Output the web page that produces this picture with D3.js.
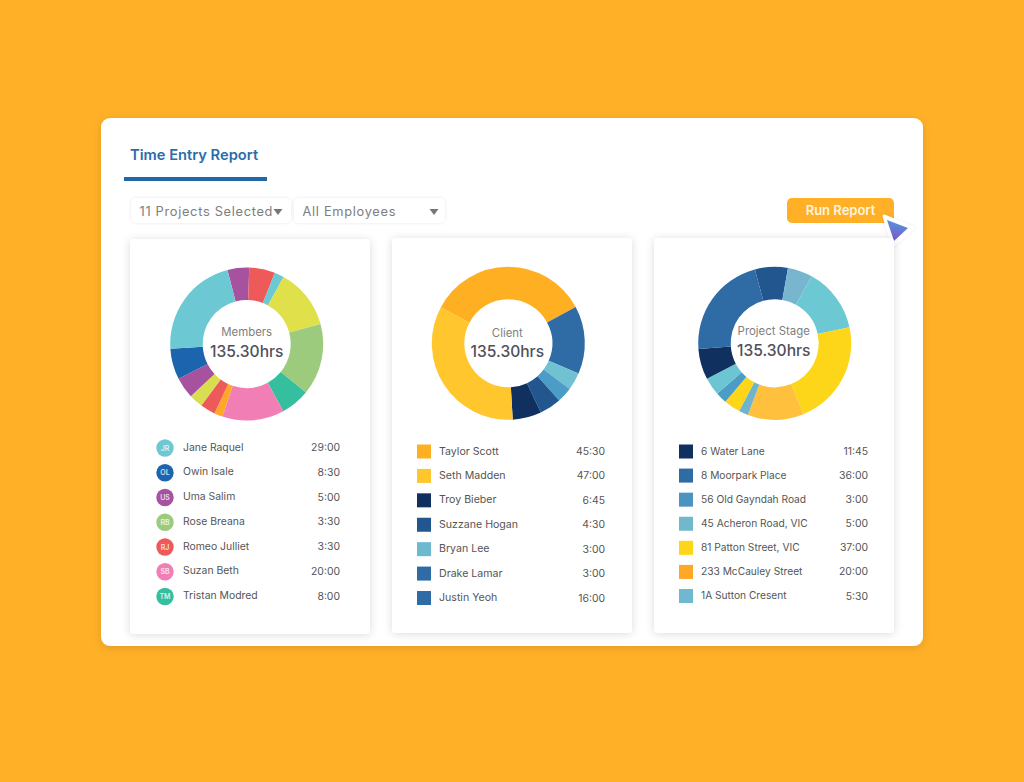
<!DOCTYPE html>
<html>
<head>
<meta charset="utf-8">
<script src="https://cdn.jsdelivr.net/npm/d3@7"></script>
<style>
html, body { margin: 0; padding: 0; background: #ffb027; }
text { font-family: "Inter", "Open Sans", sans-serif; }
</style>
</head>
<body>
<div id="wrapper"></div>
<script>
const title = "Time Entry Report";
const filters = ["11 Projects Selected", "All Employees"];
const buttonLabel = "Run Report";
const totalLabel = "135.30hrs";

// slice sizes in hours
const membersSlices = [6.2, 7.4, 2.7, 17.3, 20.5, 8.3, 17.7, 2.4, 4.3, 4.0, 6.0, 8.8, 29.7];
const membersColors = ["#a6529f", "#ee5a5a", "#6cc9d3", "#dfe04a", "#9dcb7e", "#35bf9e", "#f17fb6", "#ffa726", "#ee5a5a", "#d9de50", "#a6529f", "#1c64ad", "#6cc9d3"];
const clientSlices = [46.5, 19.4, 5.0, 4.4, 6.2, 8.2, 45.6];
const clientColors = ["#ffb022", "#2f6ba4", "#70c1d2", "#4b9cc6", "#22568f", "#10305f", "#ffc62e"];
const stageSlices = [9.4, 7.1, 18.4, 30.1, 16.0, 2.7, 4.7, 3.2, 5.1, 8.8, 29.8];
const stageColors = ["#22568f", "#78b6cf", "#6cc9d3", "#fdd519", "#ffc13d", "#6fb4cb", "#fdd519", "#4b9cc6", "#6cc5d3", "#10305f", "#2f6ba4"];

const membersNames = ["Jane Raquel", "Owin Isale", "Uma Salim", "Rose Breana", "Romeo Julliet", "Suzan Beth", "Tristan Modred"];
const membersInitials = ["JR", "OL", "US", "RB", "RJ", "SB", "TM"];
const membersTimes = ["29:00", "8:30", "5:00", "3:30", "3:30", "20:00", "8:00"];
const membersDots = ["#6cc9d3", "#1c64ad", "#a6529f", "#9dcb7e", "#ee5a5a", "#f17fb6", "#35bf9e"];

const clientNames = ["Taylor Scott", "Seth Madden", "Troy Bieber", "Suzzane Hogan", "Bryan Lee", "Drake Lamar", "Justin Yeoh"];
const clientTimes = ["45:30", "47:00", "6:45", "4:30", "3:00", "3:00", "16:00"];
const clientSwatches = ["#ffb022", "#ffc62e", "#10305f", "#22568f", "#6cb9d0", "#2f6ba4", "#2f6ba4"];

const stageNames = ["6 Water Lane", "8 Moorpark Place", "56 Old Gayndah Road", "45 Acheron Road, VIC", "81 Patton Street, VIC", "233 McCauley Street", "1A Sutton Cresent"];
const stageTimes = ["11:45", "36:00", "3:00", "5:00", "37:00", "20:00", "5:30"];
const stageSwatches = ["#10305f", "#2f6ba4", "#4b94c2", "#72b8cd", "#fdd519", "#ffa726", "#6fb8cf"];

const wrapper = d3.select("#wrapper")
    .append("svg")
    .attr("width", 1024)
    .attr("height", 782)
    .style("display", "block");

const defs = wrapper.append("defs");
function shadow(id, blur, dy, opacity) {
    defs.append("filter")
        .attr("id", id)
        .attr("x", "-20%").attr("y", "-20%")
        .attr("width", "140%").attr("height", "140%")
        .append("feDropShadow")
        .attr("dx", 0).attr("dy", dy)
        .attr("stdDeviation", blur)
        .attr("flood-color", "#000")
        .attr("flood-opacity", opacity);
}
shadow("panelShadow", 4, 2, 0.12);
shadow("cardShadow", 4, 1, 0.14);
shadow("tinyShadow", 1.5, 0, 0.1);
const grad = defs.append("linearGradient").attr("id", "cursorGrad")
    .attr("x1", 0.6).attr("y1", 0).attr("x2", 0.4).attr("y2", 1);
grad.append("stop").attr("offset", "0%").attr("stop-color", "#4f97dc");
grad.append("stop").attr("offset", "100%").attr("stop-color", "#7f58c8");

// white panel
wrapper.append("rect")
    .attr("x", 101).attr("y", 118).attr("width", 822).attr("height", 528).attr("rx", 9)
    .attr("fill", "#fff").attr("filter", "url(#panelShadow)");

// header
wrapper.append("text")
    .attr("x", 130).attr("y", 159.5)
    .attr("font-size", 14.7).attr("font-weight", 600).attr("fill", "#2b6cab")
    .text(title);
wrapper.append("rect")
    .attr("x", 124).attr("y", 177).attr("width", 143).attr("height", 4)
    .attr("fill", "#2267a8");

// filter dropdowns
const filterX = [131, 294];
const filterW = [160, 151];
wrapper.append("g").selectAll("g")
    .data(filters)
    .join("g")
    .each(function (d, i) {
        const g = d3.select(this);
        g.append("rect")
            .attr("x", filterX[i]).attr("y", 198).attr("width", filterW[i]).attr("height", 25).attr("rx", 5)
            .attr("fill", "#fff").attr("filter", "url(#tinyShadow)");
        g.append("text")
            .attr("x", filterX[i] + 8.5).attr("y", 216)
            .attr("font-size", 12.8).attr("letter-spacing", 0.7).attr("fill", "#7d7d7d")
            .text(d);
        const cx = filterX[i] + filterW[i] - (i ? 11 : 13);
        g.append("path")
            .attr("d", `M${cx - 4.5},209 L${cx + 4.5},209 L${cx},215 Z`)
            .attr("fill", "#777");
    });

// run report button and cursor
wrapper.append("rect")
    .attr("x", 787).attr("y", 198).attr("width", 107).attr("height", 25).attr("rx", 5)
    .attr("fill", "#ffb027");
wrapper.append("text")
    .attr("x", 840.5).attr("y", 214.5)
    .attr("text-anchor", "middle")
    .attr("font-size", 13).attr("font-weight", 600).attr("fill", "#fff4dc")
    .text(buttonLabel);
wrapper.append("path")
    .attr("d", "M884,216 L913,228 L893,246 Z")
    .attr("fill", "#fff").attr("stroke", "#fff").attr("stroke-width", 3).attr("stroke-linejoin", "round")
    .attr("filter", "url(#tinyShadow)");
wrapper.append("path")
    .attr("d", "M887,220 L908,228 L894,241 Z")
    .attr("fill", "url(#cursorGrad)");

const arc = d3.arc().innerRadius(44).outerRadius(76.5);

function drawCard(opt) {
    const card = wrapper.append("g");
    card.append("rect")
        .attr("x", opt.x).attr("y", opt.y).attr("width", 240).attr("height", 395).attr("rx", 4)
        .attr("fill", "#fff").attr("filter", "url(#cardShadow)");

    const pie = d3.pie().sort(null)
        .startAngle(opt.start * Math.PI / 180)
        .endAngle((opt.start + 360) * Math.PI / 180);

    const ring = card.append("g").attr("transform", `translate(${opt.cx},${opt.cy})`);
    ring.selectAll("path")
        .data(pie(opt.slices))
        .join("path")
        .attr("d", arc)
        .attr("fill", (d, i) => opt.colors[i]);
    ring.append("text")
        .attr("x", opt.textDx).attr("y", opt.labelY).attr("text-anchor", "middle")
        .attr("font-size", 11.4).attr("fill", "#7e7e7e")
        .text(opt.label);
    ring.append("text")
        .attr("x", opt.textDx).attr("y", opt.totalY).attr("text-anchor", "middle")
        .attr("font-size", 15.6).attr("font-weight", 500).attr("fill", "#50505a")
        .text(totalLabel);

    const rowY = d3.scaleLinear().domain([0, 6]).range(opt.rows);
    const rows = card.append("g").selectAll("g")
        .data(opt.names)
        .join("g")
        .attr("transform", (d, i) => `translate(0,${rowY(i)})`);

    if (opt.initials) {
        rows.append("circle")
            .attr("cx", opt.markX).attr("cy", 1).attr("r", 8.7)
            .attr("fill", (d, i) => opt.marks[i]);
        rows.append("text")
            .attr("x", opt.markX).attr("y", 3.6).attr("text-anchor", "middle")
            .attr("font-size", 7).attr("font-weight", 600).attr("fill", "#fff").attr("fill-opacity", 0.8)
            .text((d, i) => opt.initials[i]);
    } else {
        rows.append("rect")
            .attr("x", opt.markX - 7).attr("y", -6.5).attr("width", 14).attr("height", 14)
            .attr("fill", (d, i) => opt.marks[i]);
    }
    rows.append("text")
        .attr("x", opt.nameX).attr("y", 3.5)
        .attr("font-size", opt.nameSize).attr("fill", "#555")
        .text(d => d);
    rows.append("text")
        .attr("x", opt.timeX).attr("y", 4).attr("text-anchor", "end")
        .attr("font-size", 10.4).attr("fill", "#555")
        .text((d, i) => opt.times[i]);
}

drawCard({
    x: 130, y: 239, cx: 246.7, cy: 344, start: -14.6, label: "Members", textDx: 0, labelY: -8, totalY: 12.5,
    slices: membersSlices, colors: membersColors,
    names: membersNames, times: membersTimes, initials: membersInitials, marks: membersDots,
    rows: [447, 595.5], markX: 165, nameX: 183, timeX: 340, nameSize: 10.4
});
drawCard({
    x: 392, y: 238, cx: 508.3, cy: 343.3, start: -62, label: "Client", textDx: -1, labelY: -6, totalY: 13.5,
    slices: clientSlices, colors: clientColors,
    names: clientNames, times: clientTimes, marks: clientSwatches,
    rows: [451, 597.5], markX: 424, nameX: 439, timeX: 605, nameSize: 10.6
});
drawCard({
    x: 654, y: 238, cx: 774.7, cy: 343.3, start: -15, label: "Project Stage", textDx: -1, labelY: -8, totalY: 12.5,
    slices: stageSlices, colors: stageColors,
    names: stageNames, times: stageTimes, marks: stageSwatches,
    rows: [451, 595.5], markX: 686, nameX: 701, timeX: 868, nameSize: 10.2
});
</script>
</body>
</html>
